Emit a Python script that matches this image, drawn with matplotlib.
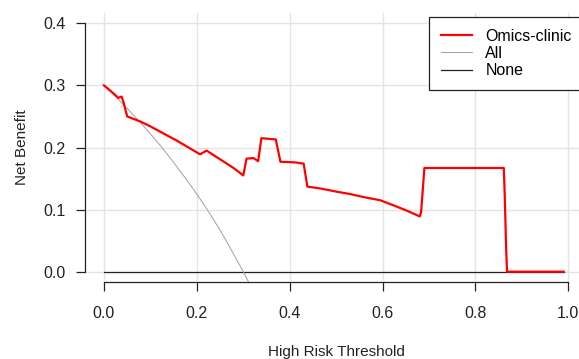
import numpy as np
import matplotlib
matplotlib.use('Agg')
import matplotlib.pyplot as plt

plt.rcParams['font.family'] = ['Liberation Sans', 'DejaVu Sans']

# threshold / net benefit
thr_model = [0.00, 0.013, 0.031, 0.038, 0.042, 0.050, 0.078, 0.10, 0.157, 0.207, 0.221,
             0.25, 0.279, 0.300, 0.307, 0.322, 0.332, 0.339, 0.370, 0.380, 0.412, 0.430,
             0.438, 0.466, 0.50, 0.53, 0.56, 0.595, 0.616, 0.65, 0.680, 0.683, 0.690,
             0.861, 0.863, 0.866, 0.868, 0.99]
nb_model = [0.300, 0.292, 0.280, 0.282, 0.273, 0.250, 0.242, 0.234, 0.211, 0.189, 0.195,
            0.181, 0.167, 0.155, 0.182, 0.183, 0.178, 0.215, 0.213, 0.177, 0.176, 0.174,
            0.137, 0.134, 0.129, 0.125, 0.120, 0.115, 0.109, 0.099, 0.089, 0.096, 0.167,
            0.167, 0.125, 0.039, 0.000, 0.000]

thr_all = [0.000, 0.025, 0.050, 0.075, 0.100, 0.125, 0.150, 0.175, 0.200, 0.225,
           0.250, 0.275, 0.300, 0.325]
nb_all = [0.300, 0.282, 0.263, 0.243, 0.222, 0.200, 0.176, 0.151, 0.125, 0.097,
          0.067, 0.034, 0.000, -0.037]

thr_none = [0.00, 0.99]
nb_none = [0.0, 0.0]

fig = plt.figure(figsize=(5.79, 3.59), dpi=100)
ax = fig.add_axes([85.4 / 579, 1 - 281.6 / 359, 501.5 / 579, 268.2 / 359])

ax.set_xlim(-0.04, 1.04)
ax.set_ylim(-0.016, 0.416)

ax.set_xticks([0.0, 0.2, 0.4, 0.6, 0.8, 1.0])
ax.set_yticks([0.0, 0.1, 0.2, 0.3, 0.4])
ax.set_xticklabels(['0.0', '0.2', '0.4', '0.6', '0.8', '1.0'])
ax.set_yticklabels(['0.0', '0.1', '0.2', '0.3', '0.4'])
ax.grid(True, color='#e4e4e4', lw=1.0)
ax.set_axisbelow(True)

ax.plot(thr_none, nb_none, color='#222222', lw=0.9, label='None', zorder=2)
ax.plot(thr_all, nb_all, color='#a0a0a0', lw=0.7, label='All', zorder=3)
ax.plot(thr_model, nb_model, color='#ff0000', lw=1.6, label='Omics-clinic', zorder=4)

for s in ['top', 'right']:
    ax.spines[s].set_visible(False)
ax.spines['bottom'].set_bounds(0, 1)
ax.spines['left'].set_bounds(0, 0.4)
for s in ['bottom', 'left']:
    ax.spines[s].set_color('#222222')
    ax.spines[s].set_linewidth(0.9)

ax.tick_params(axis='x', direction='out', length=6.5, width=0.9, pad=11,
               labelsize=11.5, colors='#222222')
ax.tick_params(axis='y', direction='out', length=6.5, width=0.9, pad=8,
               labelsize=11.5, colors='#222222')

ax.set_xlabel('High Risk Threshold', fontsize=11, color='#222222', labelpad=17)
ax.set_ylabel('Net Benefit', fontsize=11, color='#222222', labelpad=10)

handles, labels = ax.get_legend_handles_labels()
order = [2, 1, 0]
leg = ax.legend([handles[i] for i in order], [labels[i] for i in order],
                loc='upper right', bbox_to_anchor=(1.0, 1.0), borderaxespad=0.2,
                fontsize=11.5, frameon=True, fancybox=False, edgecolor='#222222',
                framealpha=1, handlelength=1.9, handletextpad=0.85, labelspacing=0.15,
                borderpad=0.75)
leg.get_frame().set_linewidth(0.9)

plt.savefig('out.png', dpi=100)
